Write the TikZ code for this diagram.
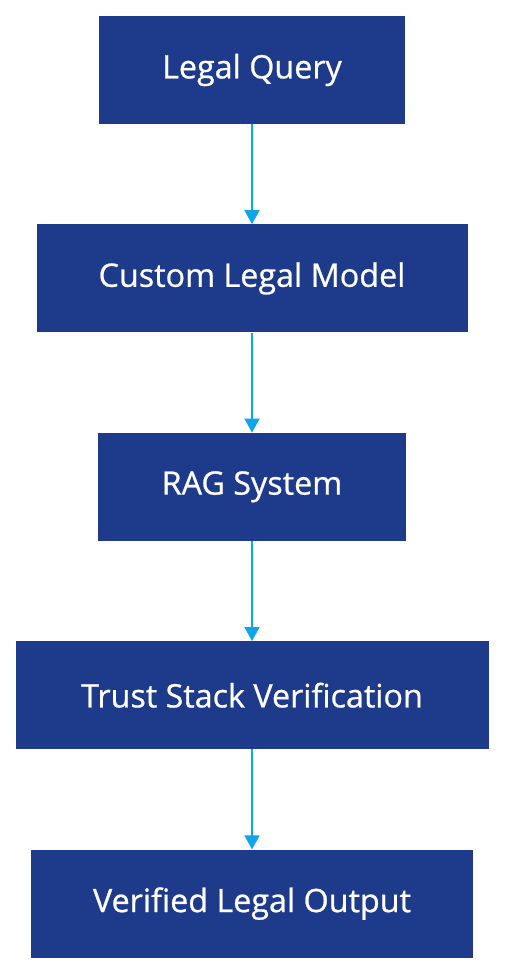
\documentclass[tikz,border=0pt]{standalone}
\usepackage{fontspec}
\setmainfont{Open Sans}[FakeBold=0.7]
\usetikzlibrary{positioning,arrows.meta}
\definecolor{boxblue}{RGB}{30,58,138}
\definecolor{arrowblue}{RGB}{14,165,233}

\begin{document}
\begin{tikzpicture}[x=1pt,y=1pt]
   \tikzstyle{every node}=[draw=none, rectangle, fill=boxblue, text=white, font=\fontsize{32.3}{36}\selectfont, minimum height=108pt, inner sep=0pt]
   \tikzstyle{flow}=[draw=arrowblue, line width=1.8pt, -{Triangle[width=15pt,length=14pt]}]
   \useasboundingbox (0,0) rectangle (504,-972);

\node[minimum width=306pt] (query) at (252,-70) {Legal Query};
\node[minimum width=431pt, below=100pt of query] (model) {Custom Legal Model};
\node[minimum width=308pt, below=100pt of model] (rag) {RAG System};
\node[minimum width=473pt, below=100pt of rag] (trust) {Trust Stack Verification};
\node[minimum width=442pt, below=100pt of trust] (output) {Verified Legal Output};

\draw[flow] (query) -- (model);
\draw[flow] (model) -- (rag);
\draw[flow] (rag) -- (trust);
\draw[flow] (trust) -- (output);

\end{tikzpicture}
\end{document}
